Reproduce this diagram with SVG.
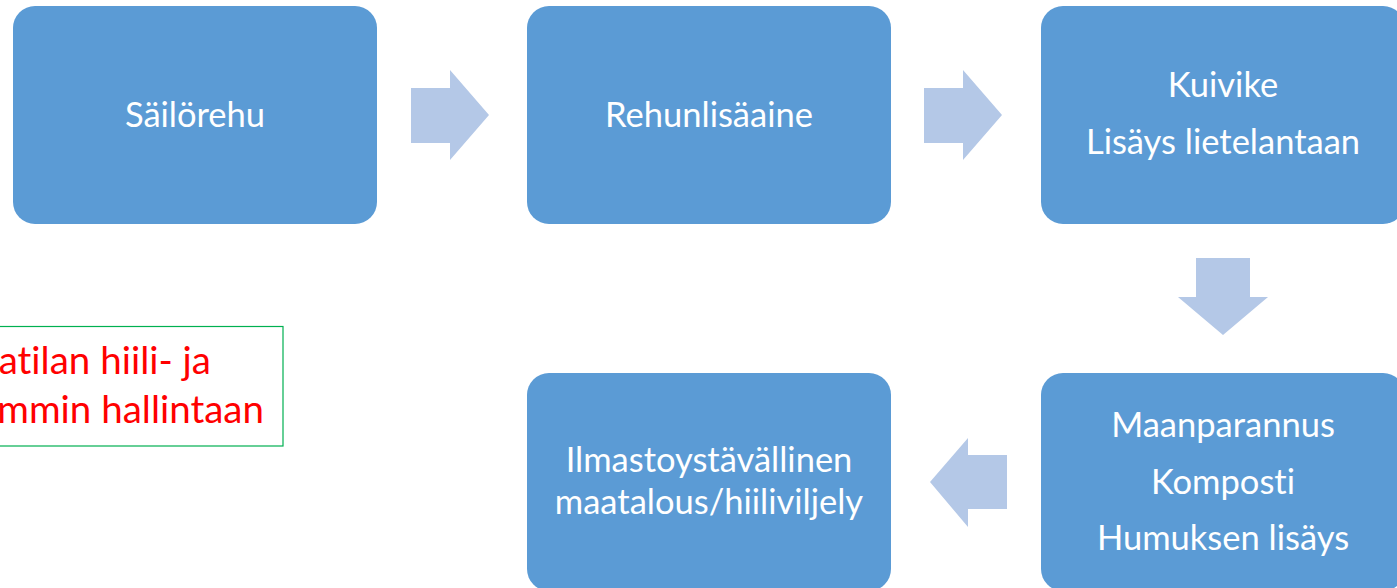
<svg xmlns="http://www.w3.org/2000/svg" width="1397" height="588" viewBox="0 0 1397 588">
<style>
.box{fill:#5b9bd5;}
.arr{fill:#b4c8e7;}
.lbl{font-family:Lato,"Open Sans",sans-serif;font-size:34.5px;fill:#ffffff;text-anchor:middle;font-variant-ligatures:none;}
.red{font-family:Lato,"Open Sans",sans-serif;font-size:38.5px;fill:#ff0000;text-anchor:end;font-variant-ligatures:none;}
</style>
<rect width="1397" height="588" fill="#ffffff"/>
<g id="connectors">
<polygon class="arr" points="411,88 450,88 450,70 489,115 450,160 450,143 411,143"/>
<polygon class="arr" points="924,88 963,88 963,70 1002,115 963,160 963,143 924,143"/>
<polygon class="arr" points="1196,258 1250,258 1250,297 1268,297 1223,335 1178,297 1196,297"/>
<polygon class="arr" points="1007,455 968,455 968,438 930,482 968,527 968,509 1007,509"/>
</g>
<g id="n1"><rect class="box" x="13" y="6" width="364" height="218" rx="22"/><text class="lbl" x="195" y="127">Säilörehu</text></g>
<g id="n2"><rect class="box" x="527" y="6" width="364" height="218" rx="22"/><text class="lbl" x="709" y="127">Rehunlisäaine</text></g>
<g id="n3"><rect class="box" x="1041" y="6" width="364" height="218" rx="22"/><text class="lbl" x="1223" y="97">Kuivike</text><text class="lbl" x="1223" y="154">Lisäys lietelantaan</text></g>
<g id="n4"><rect class="box" x="527" y="373" width="364" height="218" rx="22"/><text class="lbl" x="709" y="472">Ilmastoystävällinen</text><text class="lbl" x="709" y="514">maatalous/hiiliviljely</text></g>
<g id="n5"><rect class="box" x="1041" y="373" width="364" height="218" rx="22"/><text class="lbl" x="1223" y="437">Maanparannus</text><text class="lbl" x="1223" y="494">Komposti</text><text class="lbl" x="1223" y="550">Humuksen lisäys</text></g>
<g id="note"><rect x="-20" y="326.5" width="303" height="119.5" fill="#ffffff" stroke="#00b050" stroke-width="1.2"/><text class="red" x="211" y="374">atilan hiili- ja</text><text class="red" x="264" y="423">mmin hallintaan</text></g>
</svg>
